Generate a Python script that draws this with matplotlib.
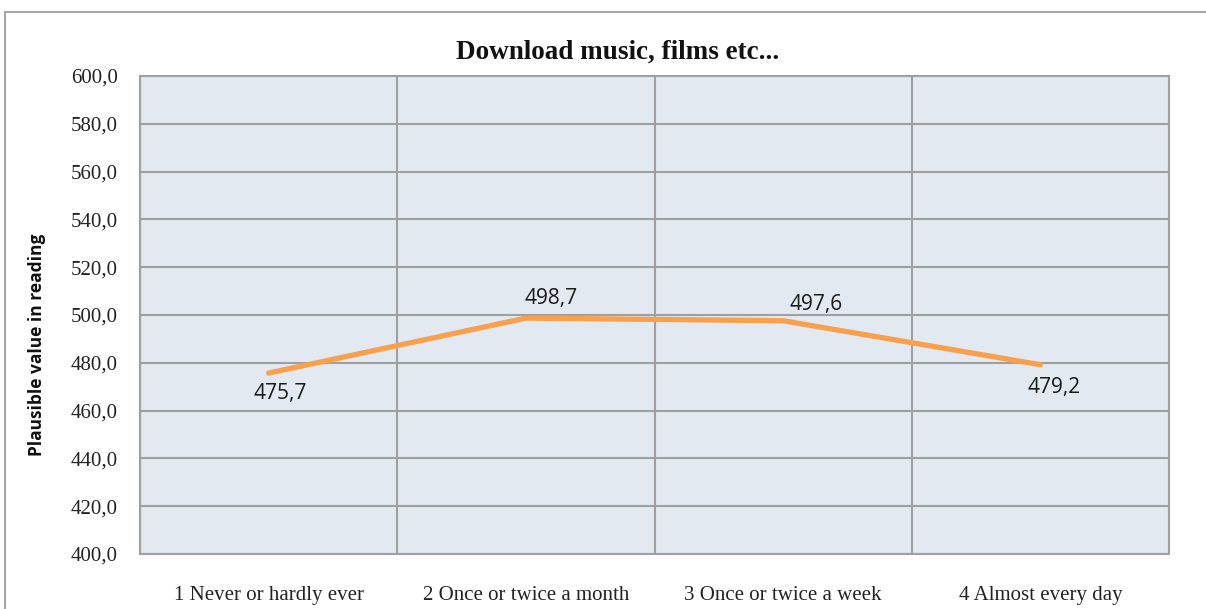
import matplotlib
matplotlib.use("Agg")
import matplotlib.pyplot as plt
from matplotlib.lines import Line2D
from matplotlib.ticker import FixedLocator, FuncFormatter

categories = ["1 Never or hardly ever", "2 Once or twice a month",
              "3 Once or twice a week", "4 Almost every day"]
values = [475.7, 498.7, 497.6, 479.2]
y_ticks = [400, 420, 440, 460, 480, 500, 520, 540, 560, 580, 600]
title = "Download music, films etc..."
ylabel = "Plausible value in reading"

# label offsets in points (dx, dy)
label_offsets = [(8.6, -14.4), (18, 14.4), (23.8, 11.5), (10.0, -16.6)]

W, H, DPI = 1206, 609, 100
fig = plt.figure(figsize=(W / DPI, H / DPI), dpi=DPI)
fig.patch.set_facecolor("white")

# outer chart frame (partially cropped)
fig.add_artist(Line2D([5 / W, 5 / W], [0, 1 - 12 / H], transform=fig.transFigure,
                      color="#A6A6A6", lw=1.5))
fig.add_artist(Line2D([5 / W, 1], [1 - 12 / H, 1 - 12 / H], transform=fig.transFigure,
                      color="#A6A6A6", lw=1.5))

left, right, top, bottom = 140, 1169, 76, 554
ax = fig.add_axes([left / W, 1 - bottom / H, (right - left) / W, (bottom - top) / H])
ax.set_facecolor("#E2E9F1")

n = len(categories)
x = list(range(n))
ax.set_xlim(-0.5, n - 0.5)
ax.set_ylim(y_ticks[0], y_ticks[-1])

grid_c = "#A0A0A0"
ax.yaxis.set_major_locator(FixedLocator(y_ticks))
ax.yaxis.set_major_formatter(FuncFormatter(lambda v, p: f"{v:.1f}".replace(".", ",")))
ax.set_xticks(x)
ax.set_xticklabels(categories)
ax.xaxis.set_minor_locator(FixedLocator([i - 0.5 for i in range(n + 1)]))
ax.grid(True, axis="y", which="major", color=grid_c, lw=1.5)
ax.grid(True, axis="x", which="minor", color=grid_c, lw=1.5)
ax.set_axisbelow(True)
for s in ax.spines.values():
    s.set_color(grid_c)
    s.set_linewidth(1.5)
ax.tick_params(axis="both", which="both", length=0)
ax.tick_params(axis="y", pad=16)
ax.tick_params(axis="x", pad=23)
for lab in ax.get_yticklabels() + ax.get_xticklabels():
    lab.set_fontfamily("Liberation Serif")
    lab.set_fontsize(15)
    lab.set_color("#222222")

ax.plot(x, values, color="#F8A04C", lw=3.8, solid_capstyle="round",
        solid_joinstyle="round", zorder=3)

for xi, v, (dx, dy) in zip(x, values, label_offsets):
    ax.annotate(f"{v:.1f}".replace(".", ","), (xi, v), xytext=(dx, dy),
                textcoords="offset points", ha="center", va="center",
                fontsize=15, family="Open Sans", color="#1A1A1A")

fig.text(618 / W, 1 - 52 / H, title, ha="center", va="center",
         fontsize=19.5, fontweight="bold", family="Liberation Serif", color="#111111")
fig.text(37 / W, 1 - 345 / H, ylabel, ha="center", va="center", rotation=90,
         fontsize=12.5, fontweight="bold", family="Open Sans", color="#111111")

fig.savefig("out.png", dpi=DPI)
